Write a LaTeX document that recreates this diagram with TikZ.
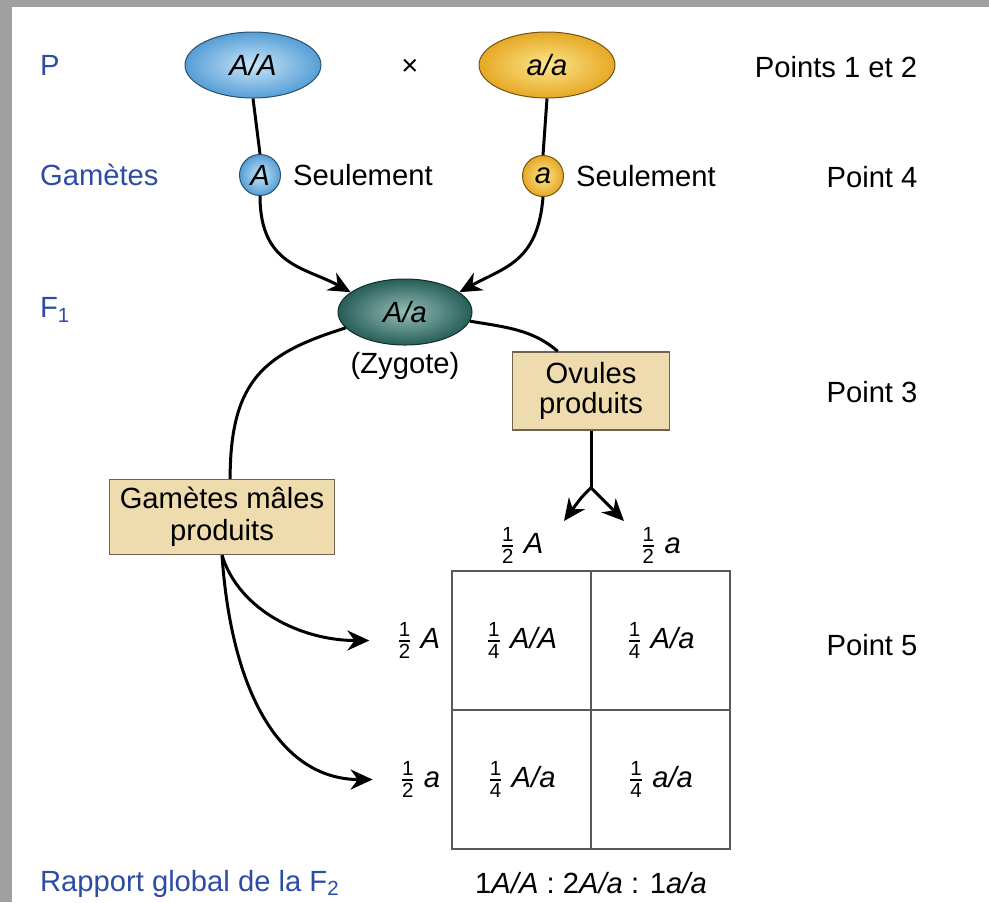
\documentclass[tikz,border=0pt]{standalone}
\usepackage{amsmath}
\usepackage{fontspec}
\setmainfont{Liberation Sans}
\usetikzlibrary{arrows.meta, positioning, shapes.geometric, matrix}

\definecolor{genblue}{HTML}{2C4CA6}
\definecolor{boxtan}{HTML}{EEDCAE}
\definecolor{boxline}{HTML}{6E6253}
\definecolor{frame}{HTML}{A0A0A0}
\definecolor{skyin}{RGB}{200,230,248}
\definecolor{skyout}{RGB}{86,158,214}
\definecolor{goldin}{RGB}{252,230,140}
\definecolor{goldout}{RGB}{230,168,36}
\definecolor{tealin}{RGB}{150,190,182}
\definecolor{tealout}{RGB}{38,94,88}

\newcommand{\frc}[2]{$\frac{\text{#1}}{\text{#2}}$}

\begin{document}
\begin{tikzpicture}[x=0.5pt, y=-0.5pt,
            font=\fontsize{14.6}{17}\selectfont,
            >={Stealth[length=11pt, width=10pt]},
            link/.style={line width=1.5pt},
            gen label/.style={text=genblue, anchor=west},
            geno/.style={ellipse, line width=0.5pt, minimum width=68pt, minimum height=33pt, inner sep=0pt},
            gamete/.style={circle, line width=0.5pt, minimum size=20.5pt, inner sep=0pt},
            blue fill/.style={draw=skyout!50!black, shading=radial, inner color=skyin, outer color=skyout},
            gold fill/.style={draw=goldout!50!black, shading=radial, inner color=goldin, outer color=goldout},
            prodbox/.style={draw=boxline, line width=0.7pt, fill=boxtan, align=center},
            cell/.style={draw=gray!70!black, line width=0.75pt, minimum size=69.5pt, inner sep=0pt}]

            \useasboundingbox (0,0) rectangle (989,902);
            \fill[frame] (0,0) rectangle (989,7);
            \fill[frame] (0,0) rectangle (12,902);

            % generation labels
            \node[gen label] (lP) at (33,65) {P};
            \node[gen label] (lG) at (33,175) {Gamètes};
            \node[gen label] (lF) at (33,310) {F\textsubscript{1}};
            \node[gen label] (lR) at (33,884) {Rapport global de la F\textsubscript{2}};

            % point labels
            \node (p12) at (836,67) {Points 1 et 2};
            \node (p4) at (872,177) {Point 4};
            \node (p3) at (872,392) {Point 3};
            \node (p5) at (872,645) {Point 5};

            % parents
            \node[geno, blue fill] (AA) at (253,65) {\textit{A/A}};
            \node (cross) at (410,67) {×};
            \node[geno, gold fill] (aa) at (547,65) {\textit{a/a}};

            % gametes
            \node[gamete, blue fill] (gA) at (260,175) {\textit{A}};
            \node[right=2.5pt of gA] (sA) {Seulement};
            \node[gamete, gold fill] (ga) at (543,176) {\textit{a}};
            \node[right=2.5pt of ga] (sa) {Seulement};

            % zygote
            \node[geno, minimum width=67pt, draw=tealout!50!black, shading=radial, inner color=tealin, outer color=tealout] (zyg) at (405,312) {\textit{A/a}};
            \node[below=0pt of zyg] (zlab) {(Zygote)};

            \draw[link] (AA.south) -- (gA.north);
            \draw[link] (aa.south) -- (ga.north);
            \draw[link, ->] (gA.south) .. controls +(0,70) and +(-45,-25) .. (zyg.160);
            \draw[link, ->] (ga.south) .. controls +(-5,65) and +(45,-25) .. (zyg.20);

            % produced gametes
            \node[prodbox, minimum width=78.5pt, minimum height=39pt, font=\fontsize{14.6}{15}\selectfont] (ov) at (591,391) {Ovules\\produits};
            \node[prodbox, minimum width=112.5pt, minimum height=37.5pt, font=\fontsize{14.6}{16}\selectfont] (gm) at (222,517) {Gamètes mâles\\produits};

            \draw[link] (zyg.195) .. controls +(-80,25) and +(0,-100) .. (gm.78);
            \draw[link] (zyg.-8) .. controls +(35,6) and +(-25,-22) .. (ov.130);

            % Punnett square
            \matrix[matrix of nodes, ampersand replacement=\&, column sep=-0.75pt, row sep=-0.75pt,
                    nodes={cell}] (m) at (591,710) {
                \frc{1}{4} \textit{A/A} \& \frc{1}{4} \textit{A/a} \\
                \frc{1}{4} \textit{A/a} \& \frc{1}{4} \textit{a/a} \\
            };
            \node[above=0pt of m-1-1] (cA) {\frc{1}{2} \textit{A}};
            \node[above=0pt of m-1-2] (ca) {\frc{1}{2} \textit{a}};
            \node[left=2pt of m-1-1] (rA) {\frc{1}{2} \textit{A}};
            \node[left=2pt of m-2-1] (ra) {\frc{1}{2} \textit{a}};
            \node[below=4pt of m] (ratio) {1\textit{A/A} : 2\textit{A/a} : 1\textit{a/a}};

            % egg split
            \coordinate (split) at ([yshift=-28.5pt]ov.south);
            \coordinate (tipA) at (564,521);
            \coordinate (tipa) at (624,521);
            \draw[link] (ov.south) -- (split);
            \draw[link, ->] (split) .. controls +(-10,10) .. (tipA);
            \draw[link, ->] (split) .. controls +(10,10) .. (tipa);

            % sperm arrows
            \draw[link, ->] (gm.south) .. controls +(17,55) and +(-68,0) .. ([xshift=-10pt]rA.west);
            \draw[link, ->] (gm.south) .. controls +(10,145) and +(-88,0) .. ([xshift=-10pt]ra.west);
        \end{tikzpicture}
\end{document}
